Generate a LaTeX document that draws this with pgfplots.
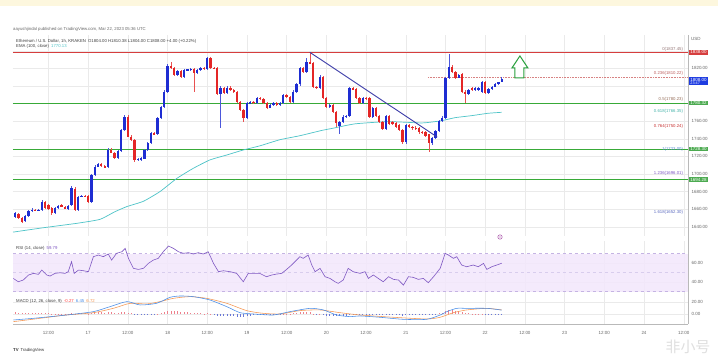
\documentclass[border=0pt]{standalone}
\usepackage{pgfplots}
\pgfplotsset{compat=1.18}
\usepackage{pgfplotstable}
\usepackage{fontspec}
\setmainfont{Liberation Sans}
\newfontfamily\cjk{Noto Sans CJK SC}

\definecolor{cred}{RGB}{228,38,38}
\definecolor{cblue}{RGB}{30,45,210}
\definecolor{ema}{RGB}{78,196,200}
\definecolor{trend}{RGB}{60,60,168}
\definecolor{lvlred}{RGB}{214,62,62}
\definecolor{lvlgreen}{RGB}{56,170,56}
\definecolor{boxgreen}{RGB}{76,170,80}
\definecolor{curblue}{RGB}{30,60,225}
\definecolor{gridc}{RGB}{234,234,234}
\definecolor{txtgray}{RGB}{105,105,105}
\definecolor{rsiline}{RGB}{126,87,194}
\definecolor{rsiband}{RGB}{243,231,252}
\definecolor{macdblue}{RGB}{70,140,232}
\definecolor{macdorange}{RGB}{245,150,80}
\definecolor{histpos}{RGB}{238,128,140}
\definecolor{histneg}{RGB}{105,120,215}
\definecolor{topyellow}{RGB}{253,247,222}
\definecolor{arrowgreen}{RGB}{40,160,60}

\newcommand\lbl{\fontsize{4.5}{5}\selectfont}
\newcommand\hdr{\fontsize{4.3}{5}\selectfont}

\pgfplotsset{
  panel/.style={scale only axis, width=675bp, xmin=1.3, xmax=205.3,
    axis line style={draw=none}, major tick length=0pt,
    xmajorgrids, ymajorgrids, grid style={draw=gridc, line width=0.35bp},
    xtick={12,24,...,204}, ytick pos=right, yticklabel pos=right, xtick pos=bottom,
    tick label style={font=\lbl, text=txtgray}, clip=false},
}
\tikzset{
  boxlbl/.style={anchor=west, xshift=1bp, inner xsep=1.2bp, inner ysep=0.8bp, text=white, font=\lbl},
  fiblbl/.style={anchor=south east, font=\hdr, inner sep=0.5bp, yshift=1.2bp},
}

\pgfplotstableread{
t o h l c
2 1651.6 1657.0 1650.0 1655.4
3 1654.2 1656.0 1649.0 1650.4
4 1650.4 1651.5 1644.0 1645.9
5 1646.6 1653.5 1645.5 1652.7
6 1652.7 1659.0 1651.5 1658.0
7 1658.0 1661.0 1657.0 1659.5
8 1659.5 1660.5 1657.5 1658.8
9 1658.8 1660.0 1657.5 1659.1
10 1658.8 1670.0 1657.5 1668.6
11 1667.9 1669.5 1660.5 1661.8
12 1664.8 1666.0 1659.0 1660.3
13 1661.0 1662.0 1653.7 1655.4
14 1655.4 1662.0 1654.5 1661.0
15 1661.0 1665.0 1660.0 1664.1
16 1664.8 1666.0 1662.0 1662.9
17 1662.9 1664.0 1660.0 1661.0
18 1660.3 1665.0 1659.5 1664.1
19 1664.8 1686.0 1663.5 1683.8
20 1683.0 1685.0 1658.0 1659.1
21 1659.1 1675.5 1658.0 1674.3
22 1674.3 1676.5 1673.5 1675.4
23 1675.4 1676.5 1673.5 1674.3
24 1675.4 1676.5 1667.5 1668.6
25 1668.6 1700.0 1667.5 1698.9
26 1698.9 1710.0 1697.5 1708.4
27 1708.4 1712.5 1707.5 1711.0
28 1711.0 1712.0 1708.5 1709.5
29 1709.5 1710.5 1706.5 1707.5
30 1707.5 1729.0 1706.5 1727.3
31 1727.3 1730.0 1723.5 1724.3
32 1724.3 1725.5 1716.5 1717.8
33 1717.8 1727.5 1716.5 1726.2
34 1726.2 1751.0 1725.5 1750.0
35 1750.0 1766.5 1749.0 1765.2
36 1765.2 1766.5 1741.5 1742.5
37 1742.5 1744.0 1737.5 1738.7
38 1738.7 1740.0 1713.3 1716.0
39 1716.0 1718.0 1715.0 1717.0
40 1716.0 1719.5 1715.0 1718.6
41 1717.5 1728.5 1716.5 1727.3
42 1727.3 1736.0 1726.5 1734.9
43 1734.9 1747.5 1734.0 1746.2
44 1746.2 1747.5 1744.0 1745.1
45 1745.1 1764.5 1744.0 1763.3
46 1763.3 1777.5 1762.5 1776.5
47 1776.5 1795.0 1775.5 1793.6
48 1793.6 1824.5 1792.5 1823.1
49 1823.1 1827.7 1819.0 1820.1
50 1820.1 1821.0 1811.5 1812.5
51 1812.5 1818.0 1811.5 1817.1
52 1817.1 1818.0 1809.5 1810.6
53 1810.6 1819.5 1809.5 1818.2
54 1818.2 1819.5 1817.5 1818.6
55 1818.2 1820.5 1817.5 1819.3
56 1819.3 1820.5 1793.6 1814.4
57 1814.4 1819.5 1813.5 1818.2
58 1818.2 1822.0 1817.0 1820.8
59 1820.8 1822.0 1818.5 1819.3
60 1819.3 1833.3 1818.5 1832.2
61 1832.2 1833.0 1819.5 1820.8
62 1820.8 1822.0 1819.0 1820.1
63 1820.1 1821.0 1789.5 1790.6
64 1790.6 1799.5 1752.0 1798.1
65 1798.1 1799.0 1790.5 1791.7
66 1791.7 1799.5 1790.5 1798.1
67 1798.1 1799.5 1794.5 1795.5
68 1795.5 1796.5 1792.5 1793.6
69 1793.6 1794.5 1781.0 1782.2
70 1782.2 1783.5 1771.5 1772.8
71 1772.8 1774.0 1758.7 1763.3
72 1763.3 1781.5 1762.0 1780.3
73 1780.3 1782.5 1779.5 1781.5
74 1782.2 1783.5 1779.5 1780.3
75 1780.3 1788.0 1779.5 1786.8
76 1786.8 1788.0 1784.5 1785.3
77 1785.3 1786.5 1779.0 1780.3
78 1780.3 1781.5 1774.0 1775.4
79 1775.4 1779.5 1774.5 1778.4
80 1778.4 1781.5 1777.5 1780.3
81 1780.3 1781.5 1777.5 1778.4
82 1778.4 1781.5 1777.5 1780.3
83 1780.3 1791.0 1779.5 1789.8
84 1789.8 1791.0 1786.5 1787.9
85 1787.9 1789.0 1781.0 1782.2
86 1782.2 1795.0 1781.0 1793.6
87 1793.6 1803.0 1792.5 1801.9
88 1801.9 1822.0 1800.5 1820.8
89 1820.8 1822.0 1815.0 1816.3
90 1816.3 1831.5 1815.0 1826.9
91 1826.9 1838.3 1825.0 1826.3
92 1826.3 1827.5 1798.0 1799.3
93 1799.3 1800.5 1796.5 1798.1
94 1798.1 1812.0 1797.0 1810.6
95 1810.6 1811.5 1785.0 1786.0
96 1786.0 1787.0 1775.0 1776.5
97 1776.5 1779.5 1775.5 1778.4
98 1778.4 1779.5 1769.5 1770.9
99 1770.9 1772.0 1753.8 1757.6
100 1755.0 1760.0 1745.0 1758.7
101 1758.7 1766.5 1757.5 1765.2
102 1765.2 1767.5 1764.0 1766.3
103 1766.3 1798.5 1765.0 1797.4
104 1797.4 1799.0 1795.5 1796.6
105 1796.6 1798.0 1785.0 1786.0
106 1786.0 1787.0 1779.0 1780.3
107 1780.3 1788.0 1779.0 1786.8
108 1786.8 1788.0 1784.5 1786.0
109 1786.0 1787.0 1764.0 1765.2
110 1765.2 1776.0 1764.0 1774.6
111 1774.6 1776.0 1765.0 1766.3
112 1766.3 1767.5 1758.0 1759.5
113 1759.5 1760.5 1750.0 1751.2
114 1751.2 1767.5 1750.0 1766.3
115 1766.3 1767.5 1755.5 1756.5
116 1758.7 1760.0 1755.5 1756.5
117 1757.6 1759.0 1752.5 1753.8
118 1755.7 1757.0 1749.0 1750.0
119 1750.0 1751.0 1734.5 1736.0
120 1736.0 1757.0 1734.5 1755.7
121 1755.7 1757.0 1752.5 1753.8
122 1753.8 1755.0 1750.5 1752.0
123 1752.7 1754.0 1750.0 1751.2
124 1751.9 1753.0 1746.0 1747.4
125 1747.4 1748.5 1745.5 1747.0
126 1747.4 1748.5 1742.5 1743.6
127 1745.1 1746.0 1724.7 1734.9
128 1734.9 1742.0 1733.5 1740.6
129 1740.6 1750.0 1739.5 1748.9
130 1748.9 1761.5 1747.5 1760.3
131 1760.3 1765.5 1759.0 1764.0
132 1764.0 1810.0 1763.0 1808.7
133 1808.7 1836.0 1807.5 1822.0
134 1822.0 1823.5 1815.0 1816.3
135 1816.3 1817.5 1808.5 1809.5
136 1809.5 1814.0 1808.5 1812.5
137 1813.3 1814.5 1792.5 1793.6
138 1793.6 1795.0 1780.3 1790.6
139 1790.6 1797.0 1789.5 1795.5
140 1797.4 1798.5 1794.5 1795.5
141 1795.5 1798.5 1794.5 1797.4
142 1795.5 1799.0 1794.5 1798.1
143 1793.6 1805.5 1792.5 1804.2
144 1804.2 1805.5 1790.5 1791.7
145 1791.7 1798.0 1790.5 1796.6
146 1796.6 1800.5 1795.5 1799.3
147 1799.3 1803.0 1798.5 1801.9
148 1801.9 1805.0 1801.0 1804.2
149 1804.0 1810.4 1804.0 1808.0
}\candles

\pgfplotstableread{
t h
2 2.5
3 2.3
4 2.0
5 1.8
6 1.6
7 1.5
8 1.3
9 1.2
10 1.3
11 1.1
12 0.8
13 0.4
14 0.4
15 0.3
16 0.2
17 0.1
18 0.2
19 1.2
20 0.5
21 0.8
22 1.0
23 0.9
24 0.6
25 1.8
26 2.6
27 2.9
28 2.8
29 2.4
30 3.2
31 2.9
32 2.2
33 2.3
34 3.4
35 4.0
36 2.3
37 0.9
38 -1.5
39 -2.2
40 -2.4
41 -2.0
42 -1.5
43 -0.6
44 -0.4
45 0.6
46 1.6
47 2.8
48 5.0
49 5.5
50 5.0
51 4.6
52 3.8
53 3.5
54 3.0
55 2.4
56 1.6
57 1.2
58 0.9
59 0.5
60 1.2
61 0.3
62 -0.4
63 -2.8
64 -3.3
65 -3.8
66 -3.6
67 -3.7
68 -3.8
69 -4.4
70 -4.8
71 -5.0
72 -3.8
73 -3.0
74 -2.4
75 -1.8
76 -1.5
77 -1.6
78 -1.9
79 -1.6
80 -1.3
81 -1.1
82 -0.8
83 0.1
84 0.3
85 0.2
86 0.9
87 1.6
88 2.9
89 2.9
90 3.2
91 2.8
92 0.6
93 -0.2
94 0.3
95 -1.5
96 -2.6
97 -2.8
98 -3.2
99 -3.8
100 -3.4
101 -2.9
102 -2.6
103 -0.5
104 -0.3
105 -0.8
106 -1.2
107 -0.9
108 -0.8
109 -1.8
110 -1.5
111 -1.8
112 -2.1
113 -2.5
114 -1.6
115 -1.8
116 -1.8
117 -1.8
118 -1.9
119 -2.6
120 -1.5
121 -1.2
122 -1.0
123 -0.9
124 -1.0
125 -0.9
126 -0.9
127 -1.4
128 -0.9
129 -0.2
130 0.8
131 1.5
132 5.0
133 6.5
134 6.2
135 5.4
136 4.6
137 2.7
138 1.6
139 1.2
140 0.7
141 0.5
142 0.4
143 0.6
144 -0.3
145 -0.4
146 -0.4
147 -0.4
148 -0.3
149 -0.27
}\hist

\begin{document}
\begin{tikzpicture}
\useasboundingbox (0,0) rectangle (718bp,359bp);
\fill[white] (0,0) rectangle (718bp,359bp);
\fill[topyellow] (0,353bp) rectangle (718bp,359bp);

% ---------------- main price panel ----------------
\begin{axis}[panel, at={(13bp,123bp)}, anchor=south west, height=201bp,
  ymin=1629.6, ymax=1857.9,
  ytick={1640,1660,...,1840},
  yticklabels={1640.00,1660.00,1680.00,1700.00,1720.00,1740.00,1760.00,{},{},1820.00,{}},
  xticklabels={}]

\addplot[lvlred, line width=0.8bp] coordinates {(1.3,1838.3) (205.3,1838.3)};
\addplot[lvlgreen, line width=0.8bp] coordinates {(1.3,1780.6) (205.3,1780.6)};
\addplot[lvlgreen, line width=0.8bp] coordinates {(1.3,1728.4) (205.3,1728.4)};
\addplot[lvlgreen, line width=0.8bp] coordinates {(1.3,1693.6) (205.3,1693.6)};
\addplot[color={rgb,255:red,215;green,130;blue,130}, densely dotted, line width=0.6bp] coordinates {(126.7,1810.3) (205.3,1810.3)};

\addplot[ema, line width=0.7bp, smooth, tension=0.3] coordinates {
(1.3,1634) (10.5,1639) (20.6,1644) (27.6,1648.5) (32,1657) (35.7,1663) (40.7,1669)
(45.7,1680) (50.8,1695) (55.8,1706.5) (60.8,1716) (65.9,1721.6) (70.9,1727.3)
(75.9,1732) (82,1739) (88,1743.5) (94.6,1749.5) (98,1752) (104.7,1757)
(114.7,1759.5) (124.8,1758) (128.8,1759.5) (130.8,1760.5) (134.9,1764)
(139.9,1766.3) (144.9,1769) (149,1770.1)};

\addplot[draw=none, mark=none, restrict expr to domain={\thisrow{c}-\thisrow{o}}{0:1000},
  error bars/.cd, y dir=both, y explicit, error mark=none,
  error bar style={draw=cblue!80, line width=0.45bp, solid}]
  table[x=t, y expr={(\thisrow{h}+\thisrow{l})/2}, y error expr={(\thisrow{h}-\thisrow{l})/2}] {\candles};
\addplot[draw=none, mark=none, restrict expr to domain={\thisrow{c}-\thisrow{o}}{-1000:-0.001},
  error bars/.cd, y dir=both, y explicit, error mark=none,
  error bar style={draw=cred!80, line width=0.45bp, solid}]
  table[x=t, y expr={(\thisrow{h}+\thisrow{l})/2}, y error expr={(\thisrow{h}-\thisrow{l})/2}] {\candles};
\addplot[draw=none, mark=none, restrict expr to domain={\thisrow{c}-\thisrow{o}}{0:1000},
  error bars/.cd, y dir=both, y explicit, error mark=none,
  error bar style={draw=cblue, line width=2.3bp, solid}]
  table[x=t, y expr={(\thisrow{o}+\thisrow{c})/2}, y error expr={max(abs(\thisrow{c}-\thisrow{o})/2,0.45)}] {\candles};
\addplot[draw=none, mark=none, restrict expr to domain={\thisrow{c}-\thisrow{o}}{-1000:-0.001},
  error bars/.cd, y dir=both, y explicit, error mark=none,
  error bar style={draw=cred, line width=2.3bp, solid}]
  table[x=t, y expr={(\thisrow{o}+\thisrow{c})/2}, y error expr={max(abs(\thisrow{c}-\thisrow{o})/2,0.45)}] {\candles};

\addplot[trend, line width=0.9bp] coordinates {(91,1838.3) (129.5,1742.0)};

\addplot[arrowgreen, line width=1bp, fill=white] coordinates {
(153.0,1809.1) (153.0,1820.5) (152.1,1820.5) (154.5,1834.1) (156.9,1820.5)
(155.7,1820.5) (155.7,1809.1) (153.0,1809.1)} -- cycle;

\node[fiblbl, text={rgb,255:red,150;green,120;blue,120}] at (axis cs:204.0,1837.5) {0(1837.45)};
\node[fiblbl, text={rgb,255:red,190;green,95;blue,95}] at (axis cs:204.0,1810.3) {0.236(1810.22)};
\node[fiblbl, text={rgb,255:red,150;green,110;blue,90}] at (axis cs:204.0,1780.2) {0.5(1780.23)};
\node[fiblbl, text={rgb,255:red,70;green,180;blue,170}] at (axis cs:204.0,1766.4) {0.618(1766.35)};
\node[fiblbl, text={rgb,255:red,200;green,50;blue,50}] at (axis cs:204.0,1750.2) {0.764(1750.24)};
\node[fiblbl, text={rgb,255:red,90;green,140;blue,210}] at (axis cs:204.0,1723.0) {1(1723.00)};
\node[fiblbl, text={rgb,255:red,126;green,87;blue,194}] at (axis cs:204.0,1696.0) {1.236(1696.01)};
\node[fiblbl, text={rgb,255:red,92;green,107;blue,192}] at (axis cs:204.0,1652.3) {1.618(1652.30)};

\node[boxlbl, fill=lvlred] at (axis cs:205.3,1838.3) {1838.00};
\node[boxlbl, fill=boxgreen] at (axis cs:205.3,1780.6) {1780.32};
\node[boxlbl, fill=boxgreen] at (axis cs:205.3,1728.4) {1728.30};
\node[boxlbl, fill=boxgreen] at (axis cs:205.3,1693.6) {1694.28};
\node[boxlbl, fill=curblue, anchor=north west, align=left, inner ysep=0.6bp] at (axis cs:205.3,1810.0) {1808.00\\[-1.4bp]{\fontsize{3.8}{4}\selectfont 23:47}};
\end{axis}

% ---------------- RSI panel ----------------
\begin{axis}[panel, at={(13bp,65bp)}, anchor=south west, height=53bp,
  ymin=27.4, ymax=83.2, ytick={40,60}, yticklabels={40.00,60.00}, xticklabels={}]
\addplot[fill=rsiband, fill opacity=0.85, draw=none] coordinates {(1.3,30) (205.3,30) (205.3,70) (1.3,70)} -- cycle;
\addplot[rsiline!45, dashed, line width=0.35bp] coordinates {(1.3,70) (205.3,70)};
\addplot[rsiline!30, dashed, line width=0.35bp] coordinates {(1.3,50) (205.3,50)};
\addplot[rsiline!45, dashed, line width=0.35bp] coordinates {(1.3,30) (205.3,30)};
\addplot[rsiline, line width=0.6bp] coordinates {
(1.4,43.8) (2.9,40.3) (4.4,42.1) (6,47.4) (7.5,49.1) (9,48.1) (10,52.6) (11.5,47.4)
(12.5,46.3) (14,49.1) (15.5,49.8) (17,49.1) (18,50.9) (19,61.4) (19.8,49.1) (21.1,52.6)
(22.6,51.9) (24.1,50.9) (25.6,66.7) (27.1,68.4) (28.6,66.7) (30.1,69.5) (31.1,63.1)
(32.6,70.2) (34.2,71.9) (35.2,75.4) (36.2,64.9) (37.7,54.4) (39.2,53.3) (40.7,54.4)
(42.2,59.6) (43.7,63.1) (45.2,64.9) (46.7,71.9) (48.3,77.9) (49.8,75.4) (51.3,71.9)
(52.8,70.2) (54.3,70.9) (55.8,69.5) (57.3,70.9) (58.8,69.5) (60.3,71.9) (61.9,59.6)
(63.4,50.9) (64.9,51.9) (66.9,50.9) (68.9,49.1) (70.9,40.3) (72.4,49.1) (73.9,49.1)
(75.9,49.1) (77.9,45.6) (79.5,47.4) (81,48.4) (82.5,49.1) (84,53.3) (85.5,57.9)
(87,63.1) (88,66.7) (89,64.9) (90.5,68.4) (91.6,57.9) (92.6,50.9) (94.1,54.4)
(95.6,45.6) (97.1,43.8) (98.6,40.3) (99.6,38.6) (101.1,42.1) (102.6,54.4) (104.1,50.9)
(106.2,49.1) (107.7,50.9) (108.7,43.8) (110.2,47.4) (111.7,43.8) (113.2,40.3)
(114.8,45.6) (116.3,42.8) (117.8,42.1) (119.3,36.8) (120.8,45.6) (122.3,44.9)
(123.8,42.8) (125.3,43.8) (126.8,39.3) (128.4,45.6) (130.4,54.4) (131.9,70.2)
(132.9,68.4) (134.4,64.9) (135.4,66.7) (136.9,57.9) (138.4,56.1) (140.4,57.9)
(141.9,56.1) (143.5,59.6) (144.5,53.3) (146,56.1) (147.5,57.9) (149,59.8)};
\end{axis}

% ---------------- MACD panel ----------------
\begin{axis}[panel, at={(13bp,35bp)}, anchor=south west, height=30bp,
  ymin=-16.7, ymax=33.3, ytick={0,20}, yticklabels={0.00,20.00},
  xticklabels={12:00,17,12:00,18,12:00,19,12:00,20,12:00,21,12:00,22,12:00,23,12:00,24,12:00},
  xticklabel style={yshift=-3.5bp}]
\addplot[ycomb, draw=histpos, line width=0.6bp, restrict y to domain=0:100] table[x=t, y=h] {\hist};
\addplot[ycomb, draw=histneg, line width=0.6bp, restrict y to domain=-100:0] table[x=t, y=h] {\hist};
\addplot[macdorange, line width=0.55bp, smooth, tension=0.4] coordinates {
(1.4,-12.8) (9.5,-7.2) (17.5,-1.7) (25.6,2.2) (31.6,9.4) (36.7,17.8) (41.7,16.7)
(45.7,20.6) (49.8,26.1) (54.8,28.9) (59.8,26.1) (65.9,17.8) (71.9,5.6) (76.9,1.1)
(82,0) (88,5.6) (94.1,6.7) (100.1,2.2) (106.2,-1.7) (116.3,-5.5) (126.3,-8.3)
(130.4,-5.5) (134.4,2.2) (138.4,6.7) (144.5,9.4) (149,6.72)};
\addplot[macdblue, line width=0.55bp, smooth, tension=0.4] coordinates {
(1.4,-10) (7.5,-7.2) (17.5,-1.7) (25.6,3.9) (30.6,12.2) (35.7,20.6) (39.7,15)
(44.7,17.8) (48.8,27.8) (51.8,30) (55.8,28.9) (60.8,23.3) (65.9,12.2) (69.9,2.2)
(73.9,0) (80,-1.7) (85,3.9) (91.1,9.4) (95.1,6.7) (99.1,-1.7) (103.1,-4.4)
(106.2,-3.3) (112.2,-5.5) (119.3,-8.9) (126.3,-8.9) (130.4,-1.7) (132.4,3.9)
(135.4,9.4) (138.4,9.4) (144.5,9.4) (149,6.45)};
\end{axis}

\draw[gray!55, line width=0.5bp] (688bp,35bp) -- (688bp,324bp);
\draw[gray!55, line width=0.5bp] (13bp,35bp) -- (688bp,35bp);

\node[anchor=west, font=\hdr, text=txtgray, inner sep=0] at (13bp,330bp) {aayushjindal published on TradingView.com, Mar 22, 2023 05:36 UTC};
\node[anchor=west, font=\hdr, text=black!75, inner sep=0] at (16bp,318bp) {Ethereum / U.S. Dollar, 1h, KRAKEN\enspace O1804.00 H1810.38 L1804.00 C1808.00 +4.00 (+0.22\%)};
\node[anchor=west, font=\hdr, text=black!75, inner sep=0] at (16bp,312.5bp) {EMA (100, close)\enspace\textcolor{ema}{1770.13}};
\node[anchor=west, font=\lbl, text=txtgray, inner sep=0] at (691bp,320bp) {USD};
\node[anchor=west, font=\hdr, text=black!75, inner sep=0] at (16bp,111bp) {RSI (14, close)\enspace\textcolor{rsiline}{59.79}};
\node[anchor=west, font=\hdr, text=black!75, inner sep=0] at (16bp,58bp) {MACD (12, 26, close, 9)\enspace\textcolor{red!75}{-0.27}\enspace\textcolor{macdblue}{6.45}\enspace\textcolor{macdorange}{6.72}};

\draw[violet!70, line width=0.5bp] (500bp,122bp) circle (2.2bp);
\fill[violet!70] (500bp,122bp) circle (0.7bp);

\node[anchor=west, font=\hdr, text=black!80, inner sep=0] at (13bp,9bp) {\textbf{TV}\, TradingView};
\node[text=gray!25, font=\cjk\fontsize{15}{15}\selectfont, inner sep=0] at (688bp,12bp) {非小号};
\end{tikzpicture}
\end{document}
